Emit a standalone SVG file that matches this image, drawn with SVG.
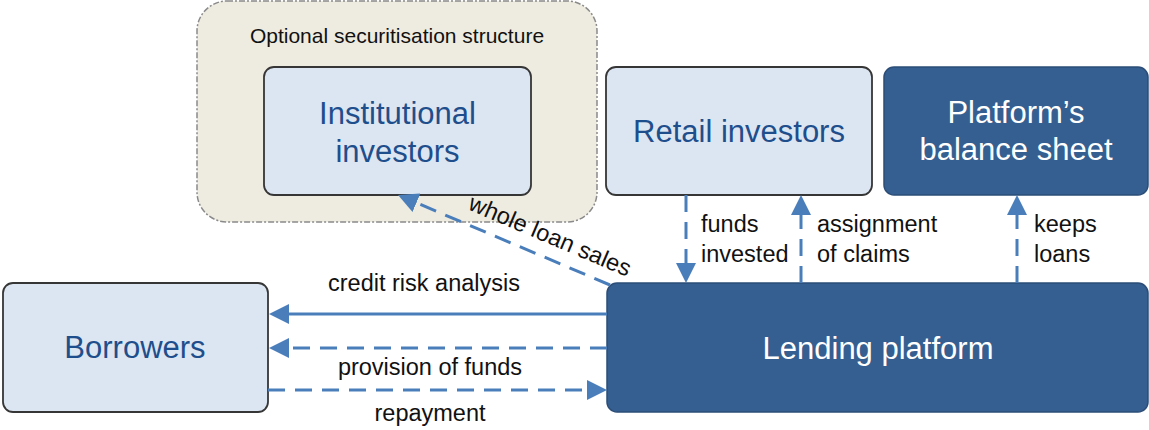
<svg xmlns="http://www.w3.org/2000/svg" width="1149" height="430" viewBox="0 0 1149 430">
<defs>
<style>
.light{fill:#dce6f2;stroke:#363636;stroke-width:1.8}
.dark{fill:#355f91;stroke:#2b4d77;stroke-width:1.5}
.nt{font-family:"Liberation Sans",Arial,sans-serif;font-size:31px;text-anchor:middle}
.ntl{fill:#1f4e8c}
.ntd{fill:#ffffff}
.lbl{font-family:"Liberation Sans",Arial,sans-serif;font-size:23.5px;fill:#111111}
.con{fill:none;stroke:#4a7ebb;stroke-width:3;marker-end:url(#ah)}
.dash{stroke-dasharray:17 10}
</style>
<marker id="ah" viewBox="0 0 20 20" refX="2" refY="10" markerWidth="20" markerHeight="20" orient="auto" markerUnits="userSpaceOnUse">
<path d="M0,0 L20,10 L0,20 z" fill="#4a7ebb"/>
</marker>
</defs>
<rect width="1149" height="430" fill="#ffffff"/>

<g id="securitisation-group">
<rect x="197" y="1" width="400" height="221" rx="30" fill="#eeebe0" stroke="#8a8a8a" stroke-width="1.5" stroke-dasharray="6 2 2 2"/>
<text x="397" y="43" font-family="'Liberation Sans',Arial,sans-serif" font-size="21" fill="#111111" text-anchor="middle">Optional securitisation structure</text>
</g>

<g id="institutional-investors">
<rect class="light" x="264" y="67" width="267" height="128" rx="10"/>
<text class="nt ntl" x="397.5" y="124">Institutional</text>
<text class="nt ntl" x="397.5" y="162">investors</text>
</g>

<g id="retail-investors">
<rect class="light" x="606" y="67" width="266" height="128" rx="10"/>
<text class="nt ntl" x="739" y="142">Retail investors</text>
</g>

<g id="balance-sheet">
<rect class="dark" x="884" y="67" width="264" height="128" rx="10"/>
<text class="nt ntd" x="1016" y="123">Platform’s</text>
<text class="nt ntd" x="1016" y="160">balance sheet</text>
</g>

<g id="borrowers">
<rect class="light" x="3" y="283" width="265" height="129" rx="10"/>
<text class="nt ntl" x="135" y="358">Borrowers</text>
</g>

<g id="lending-platform">
<rect class="dark" x="607" y="283" width="541" height="129" rx="10"/>
<text class="nt ntd" x="878" y="359">Lending platform</text>
</g>

<g id="connectors">
<path class="con" d="M607,314 L287,314"/>
<path class="con dash" d="M607,348 L287,348"/>
<path class="con dash" d="M268,390 L589,390"/>
<path class="con dash" d="M686,195 L686,265"/>
<path class="con dash" d="M801,283 L801,213"/>
<path class="con dash" d="M1017,283 L1017,213"/>
<path class="con dash" d="M610,285 L414.6,202"/>
<text class="lbl" x="424" y="291" text-anchor="middle">credit risk analysis</text>
<text class="lbl" x="430" y="375" text-anchor="middle">provision of funds</text>
<text class="lbl" x="430" y="421" text-anchor="middle">repayment</text>
<text class="lbl" x="701" y="232">funds</text>
<text class="lbl" x="701" y="262">invested</text>
<text class="lbl" x="817" y="232">assignment</text>
<text class="lbl" x="817" y="262">of claims</text>
<text class="lbl" x="1034" y="232">keeps</text>
<text class="lbl" x="1034" y="262">loans</text>
<text class="lbl" x="547" y="243" text-anchor="middle" transform="rotate(23 547 243)">whole loan sales</text>
</g>
</svg>
